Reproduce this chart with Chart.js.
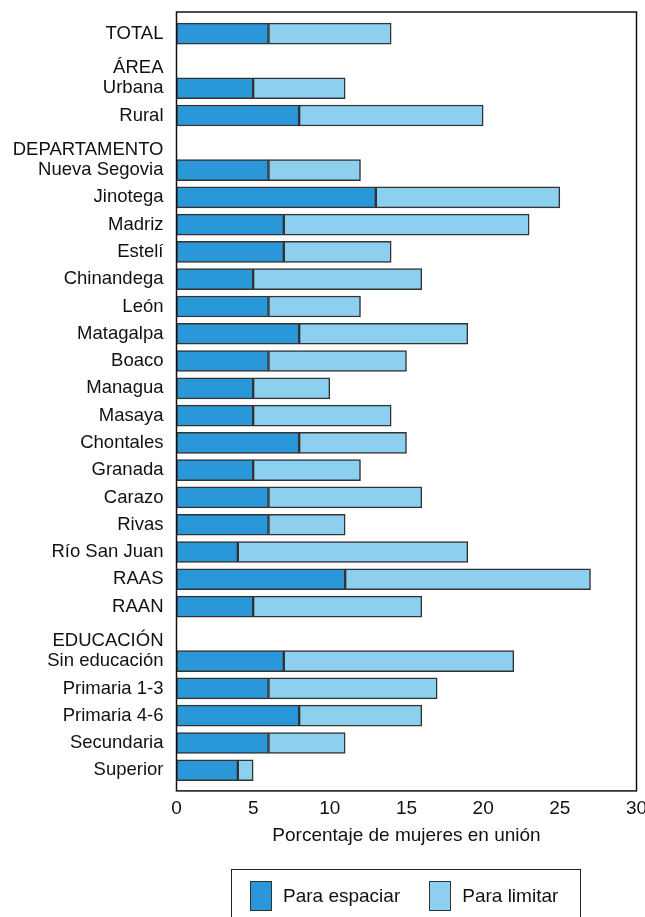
<!DOCTYPE html>
<html>
<head>
<meta charset="utf-8">
<script src="https://cdn.jsdelivr.net/npm/chart.js@4"></script>
<style>
  body { margin: 0; background: #fff; font-family: "Liberation Sans", Arial, sans-serif; }
  #wrap { position: relative; width: 645px; height: 917px; overflow: hidden; }
  #legend {
    position: absolute; left: 231px; top: 869px; width: 350px; height: 70px;
    border: 1.5px solid #222; display: flex; align-items: flex-start;
    padding: 11px 0 0 18px; box-sizing: border-box; font-size: 19px; color: #111;
  }
  .item { display: flex; align-items: center; margin-right: 29px; white-space: nowrap; flex-shrink: 0; }
  .sw { width: 22px; height: 30px; border: 1.5px solid #333; box-sizing: border-box; margin-right: 11px; }
</style>
</head>
<body>
<div id="wrap">
  <canvas id="chart"></canvas>
  <div id="legend"></div>
</div>
<script>
// filas del gráfico (los encabezados de grupo no tienen barra)
const categories = ['TOTAL', 'ÁREA', 'Urbana', 'Rural', 'DEPARTAMENTO', 'Nueva Segovia', 'Jinotega', 'Madriz',
  'Estelí', 'Chinandega', 'León', 'Matagalpa', 'Boaco', 'Managua', 'Masaya', 'Chontales', 'Granada',
  'Carazo', 'Rivas', 'Río San Juan', 'RAAS', 'RAAN', 'EDUCACIÓN', 'Sin educación', 'Primaria 1-3',
  'Primaria 4-6', 'Secundaria', 'Superior'];
const headers = ['ÁREA', 'DEPARTAMENTO', 'EDUCACIÓN'];

const paraEspaciar = [6, null, 5, 8, null, 6, 13, 7, 7, 5, 6, 8, 6, 5, 5, 8, 5, 6, 6, 4, 11, 5, null, 7, 6, 8, 6, 4];
const paraLimitar = [8, null, 6, 12, null, 6, 12, 16, 7, 11, 6, 11, 9, 5, 9, 7, 7, 10, 5, 15, 16, 11, null, 15, 11, 8, 5, 1];

const xTicks = [0, 5, 10, 15, 20, 25, 30];

// los encabezados se dibujan un poco más abajo (línea vacía encima)
const labels = categories.map(c => headers.includes(c) ? ['', c] : c);

// marco alrededor del área del gráfico
const framePlugin = {
  id: 'frame',
  afterDraw(chart) {
    const { ctx, chartArea: a } = chart;
    ctx.save();
    ctx.strokeStyle = '#111';
    ctx.lineWidth = 1.5;
    ctx.strokeRect(a.left, a.top - 8, a.right - a.left, a.bottom - a.top + 15);
    ctx.restore();
  }
};

Chart.defaults.font.family = '"Liberation Sans", Arial, sans-serif';
Chart.defaults.color = '#111';

const chart = new Chart(document.getElementById('chart'), {
  type: 'bar',
  data: {
    labels: labels,
    datasets: [{
      label: 'Para espaciar',
      data: paraEspaciar,
      backgroundColor: '#2a97d8',
      borderColor: '#333',
      borderWidth: 1.5,
      borderSkipped: false,
      barThickness: 21
    }, {
      label: 'Para limitar',
      data: paraLimitar,
      backgroundColor: '#8dcfee',
      borderColor: '#333',
      borderWidth: 1.5,
      borderSkipped: false,
      barThickness: 21
    }]
  },
  options: {
    indexAxis: 'y',
    responsive: true,
    maintainAspectRatio: false,
    animation: false,
    layout: { padding: { top: 20, right: 8.5, bottom: 69.5, left: 0 } },
    plugins: {
      legend: { display: false },
      tooltip: { enabled: false }
    },
    scales: {
      x: {
        stacked: true,
        min: 0,
        max: 30,
        afterBuildTicks: s => { s.ticks = xTicks.map(v => ({ value: v })); },
        afterFit: s => { s.paddingLeft = 0; s.paddingRight = 0; },
        grid: { display: false, drawTicks: false },
        border: { display: false },
        ticks: { font: { size: 19 }, padding: 13 },
        title: {
          display: true,
          text: 'Porcentaje de mujeres en unión',
          font: { size: 19 },
          padding: { top: -8, bottom: 0 }
        }
      },
      y: {
        stacked: true,
        grid: { display: false, drawTicks: false },
        border: { display: false },
        ticks: { font: { size: 18.5, lineHeight: 0.8 }, padding: 13, autoSkip: false },
        afterFit: s => { s.width = 176.5; s.paddingTop = 0; s.paddingBottom = 0; }
      }
    }
  },
  plugins: [framePlugin]
});

// leyenda en HTML a partir de los datasets
const legend = document.getElementById('legend');
chart.data.datasets.forEach(ds => {
  const item = document.createElement('div');
  item.className = 'item';
  const sw = document.createElement('span');
  sw.className = 'sw';
  sw.style.background = ds.backgroundColor;
  const txt = document.createElement('span');
  txt.textContent = ds.label;
  item.appendChild(sw);
  item.appendChild(txt);
  legend.appendChild(item);
});
</script>
</body>
</html>
